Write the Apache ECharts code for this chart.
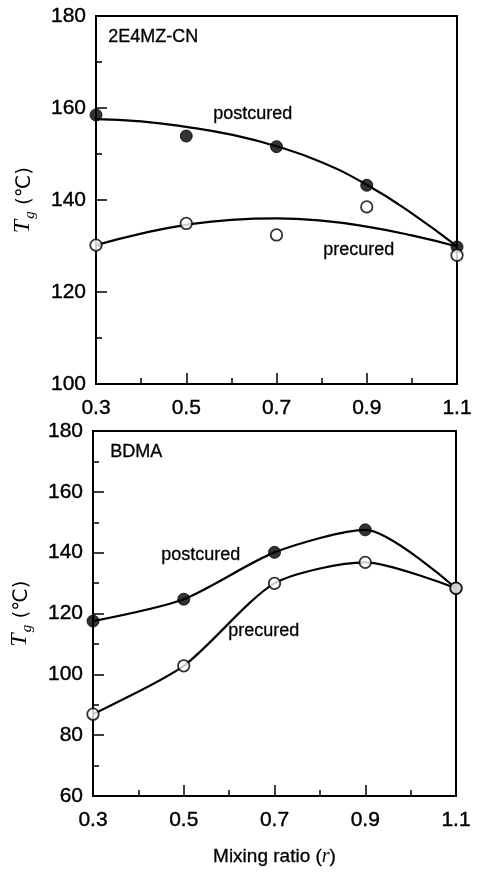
<!DOCTYPE html>
<html>
<head>
<meta charset="utf-8">
<script src="https://cdn.jsdelivr.net/npm/echarts@6/dist/echarts.min.js"></script>
<style>
  html, body { margin: 0; padding: 0; background: #fff; }
  #chart { width: 480px; height: 872px; }
</style>
</head>
<body>
<div id="chart"></div>
<script>
// Mixing ratios at which Tg was measured
const ratios = [0.3, 0.5, 0.7, 0.9, 1.1];
// Ratios along the fitted curves
const fitRatios = [0.3, 0.4, 0.5, 0.6, 0.7, 0.8, 0.9, 1.0, 1.1];

// 2E4MZ-CN catalyst: measured Tg (°C)
const cnPostcured = [158.5, 153.9, 151.6, 143.2, 129.8];
const cnPrecured  = [130.2, 134.9, 132.4, 138.5, 128.0];
// 2E4MZ-CN catalyst: fitted curves
const cnPostcuredFit = [157.6, 157.1, 155.9, 154.2, 151.7, 148.2, 143.3, 137.1, 129.9];
const cnPrecuredFit  = [130.2, 132.7, 134.6, 135.7, 136.0, 135.5, 134.2, 132.3, 129.9];

// BDMA catalyst: measured Tg (°C)
const bdPostcured = [117.5, 124.7, 140.1, 147.5, 128.3];
const bdPrecured  = [86.9, 102.8, 129.9, 136.8, 128.3];

const FONT = '"Liberation Sans", Arial, Helvetica, sans-serif';
const SERIF = '"Liberation Serif", "Times New Roman", serif';

const pairs = (xs, ys) => xs.map((x, i) => [x, ys[i]]);

const tickStyle = { color: '#000', width: 1.5 };
const labelStyle = {
  color: '#000', fontSize: 21, fontFamily: FONT,
  textBorderColor: '#000', textBorderWidth: 0.4
};

function xAxisFor(gridIndex, withName) {
  const ax = {
    type: 'value', gridIndex: gridIndex,
    min: 0.3, max: 1.1, interval: 0.2,
    axisLine: { show: true, onZero: false, lineStyle: { color: '#000', width: 2 } },
    axisTick: { show: true, inside: true, length: 11, lineStyle: tickStyle },
    minorTick: { show: true, splitNumber: 2, length: 6, lineStyle: tickStyle },
    splitLine: { show: false },
    axisLabel: Object.assign({ margin: 14, formatter: v => v.toFixed(1) }, labelStyle)
  };
  if (withName) {
    ax.name = '{n|Mixing ratio (}{r|r}{n|)}';
    ax.nameLocation = 'middle';
    ax.nameGap = 51;
    ax.nameTextStyle = {
      rich: {
        n: { fontSize: 19, fontFamily: FONT, color: '#000', textBorderColor: '#000', textBorderWidth: 0.3 },
        r: { fontSize: 20, fontFamily: SERIF, fontStyle: 'italic', color: '#000' }
      }
    };
  }
  return ax;
}

function yAxisFor(gridIndex, min, nameGap) {
  return {
    type: 'value', gridIndex: gridIndex,
    min: min, max: 180, interval: 20,
    axisLine: { show: true, onZero: false, lineStyle: { color: '#000', width: 2 } },
    axisTick: { show: true, inside: true, length: 11, lineStyle: tickStyle },
    minorTick: { show: true, splitNumber: 2, length: 6, lineStyle: tickStyle },
    splitLine: { show: false },
    axisLabel: Object.assign({ margin: 10 }, labelStyle),
    name: '{t|T}{g|g}{u| (℃)}',
    nameLocation: 'middle',
    nameGap: nameGap,
    nameTextStyle: {
      rich: {
        t: { fontSize: 24, fontFamily: SERIF, fontStyle: 'italic', color: '#000', verticalAlign: 'bottom', padding: [0, 1, 3, 0] },
        g: { fontSize: 15, fontFamily: SERIF, fontStyle: 'italic', color: '#000', verticalAlign: 'bottom' },
        u: { fontSize: 20, fontFamily: '"DejaVu Sans", "Liberation Sans", sans-serif', color: '#000', verticalAlign: 'bottom', padding: [0, 0, 3, 0] }
      }
    }
  };
}

function curve(xi, yi, data, smooth) {
  return {
    type: 'line', xAxisIndex: xi, yAxisIndex: yi, data: data,
    smooth: smooth, showSymbol: false, symbol: 'none', clip: false,
    lineStyle: { color: '#000', width: 2.2 }, z: 2, silent: true
  };
}

function dots(xi, yi, data, filled) {
  return {
    type: 'scatter', xAxisIndex: xi, yAxisIndex: yi, data: data,
    symbol: 'circle', symbolSize: filled ? 12 : 11.5, clip: false, silent: true, z: filled ? 3 : 4,
    itemStyle: filled
      ? { color: '#000', borderColor: '#000', borderWidth: 1 }
      : { color: '#fff', borderColor: '#000', borderWidth: 1.8 }
  };
}

function note(text, left, top) {
  return {
    type: 'text', left: left, top: top,
    style: { text: text, font: '18px ' + FONT, fill: '#000', stroke: '#000', lineWidth: 0.3 }
  };
}

const chart = echarts.init(document.getElementById('chart'), null, { renderer: 'canvas' });

chart.setOption({
  backgroundColor: '#fff',
  animation: false,
  grid: [
    { left: 96, top: 16, width: 361, height: 368, show: true, borderColor: '#000', borderWidth: 2, backgroundColor: 'transparent' },
    { left: 93, top: 431, width: 363, height: 365, show: true, borderColor: '#000', borderWidth: 2, backgroundColor: 'transparent' }
  ],
  xAxis: [xAxisFor(0, false), xAxisFor(1, true)],
  yAxis: [yAxisFor(0, 100, 58), yAxisFor(1, 60, 58)],
  series: [
    // 2E4MZ-CN panel
    curve(0, 0, pairs(fitRatios, cnPostcuredFit), 0.5),
    curve(0, 0, pairs(fitRatios, cnPrecuredFit), 0.5),
    dots(0, 0, pairs(ratios, cnPostcured), true),
    dots(0, 0, pairs(ratios, cnPrecured), false),
    // BDMA panel
    curve(1, 1, pairs(ratios, bdPostcured), 0.25),
    curve(1, 1, pairs(ratios, bdPrecured), 0.25),
    dots(1, 1, pairs(ratios, bdPostcured), true),
    dots(1, 1, pairs(ratios, bdPrecured), false)
  ],
  graphic: [
    note('2E4MZ-CN', 108, 28),
    note('BDMA', 110, 443),
    note('postcured', 213, 105),
    note('precured', 323, 241),
    note('postcured', 161, 546),
    note('precured', 228, 622)
  ]
});
</script>
</body>
</html>
